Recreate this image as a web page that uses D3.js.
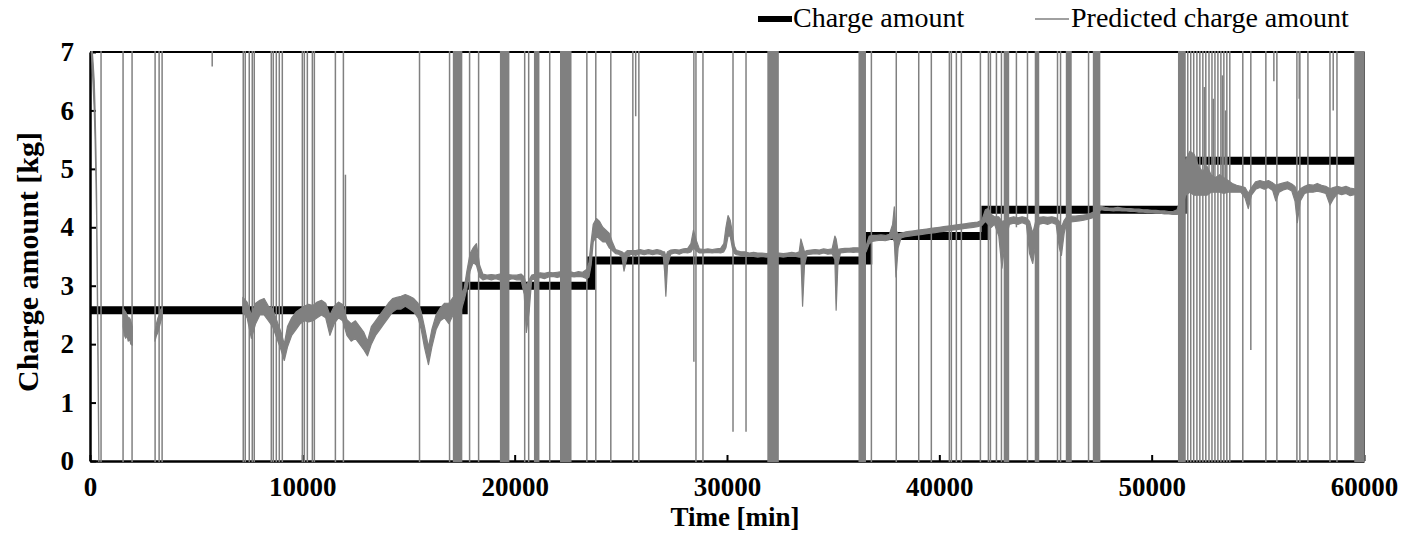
<!DOCTYPE html>
<html><head><meta charset="utf-8">
<script src="https://cdn.jsdelivr.net/npm/d3@7"></script>
<style>
html,body{margin:0;padding:0;background:#fff;}
</style></head>
<body><svg id="chart" width="1410" height="537"></svg>
<script>
// ---------------- DATA ----------------
const xTicks = [0, 10000, 20000, 30000, 40000, 50000, 60000];
const yTicks = [0, 1, 2, 3, 4, 5, 6, 7];
const xTitle = "Time [min]";
const yTitle = "Charge amount [kg]";
const seriesNames = ["Charge amount", "Predicted charge amount"];

// Charge amount (step series)
const stepTime  = [0, 17600, 23600, 36650, 42170, 51460, 60000];
const stepValue = [2.58, 3.0, 3.43, 3.85, 4.3, 5.14, 5.14];

// Predicted charge amount: in-range trace as [time, low, high] envelope (null = off chart)
const predictedTrace = [
 [0,7.3,7.6],[60,7.0,7.3],[110,6.7,7.0],[150,6.4,6.8],[200,6.0,6.5],[240,5.5,6.0],[280,4.8,5.3],[310,4.2,4.6],[340,3.0,3.5],[370,1.8,2.3],[400,0.6,1.0],[430,-0.6,-0.4],null,
 [1560,2.3,2.62],[1620,2.15,2.58],[1680,2.1,2.55],[1740,2.15,2.5],[1800,2.05,2.45],[1860,2.1,2.45],[1920,2.0,2.4],[1990,1.98,2.3],null,
 [3060,2.05,2.2],[3130,2.15,2.35],[3200,2.2,2.45],[3270,2.3,2.5],[3340,2.4,2.6],[3400,2.45,2.62],null,
 [7200,2.55,2.8],[7400,2.45,2.72],[7600,2.1,2.5],[7800,2.35,2.7],[8000,2.5,2.75],[8200,2.5,2.78],[8400,2.4,2.65],[8600,2.3,2.6],[8800,2.1,2.4],[9000,1.9,2.2],[9150,1.72,2.0],[9300,1.95,2.3],[9500,2.15,2.45],[9700,2.25,2.55],[9900,2.35,2.6],[10100,2.4,2.65],[10300,2.38,2.68],[10500,2.4,2.66],[10700,2.45,2.72],[10900,2.5,2.75],[11100,2.45,2.7],[11300,2.15,2.5],[11500,2.35,2.65],[11700,2.45,2.72],[11900,2.4,2.68],[12100,2.15,2.42],[12300,2.05,2.35],[12500,2.1,2.4],[12700,2.0,2.3],[12900,1.9,2.2],[13070,1.8,2.05],[13250,2.0,2.3],[13450,2.15,2.4],[13650,2.25,2.5],[13850,2.35,2.6],[14050,2.45,2.7],[14250,2.55,2.78],[14450,2.6,2.8],[14650,2.6,2.82],[14850,2.65,2.85],[15050,2.6,2.82],[15250,2.55,2.78],[15450,2.45,2.7],[15600,2.25,2.55],[15750,1.95,2.3],[15940,1.65,1.95],[16100,1.95,2.25],[16300,2.25,2.5],[16500,2.4,2.62],[16700,2.45,2.7],[16900,2.35,2.7],[17100,2.5,2.8],[17300,2.55,2.85],[17500,2.6,2.88],
 [17620,2.75,2.95],[17750,2.95,3.25],[17900,3.25,3.55],[18050,3.4,3.65],[18200,3.35,3.72],[18350,3.15,3.35],[18500,3.1,3.2],[18700,3.12,3.18],[18900,3.1,3.19],[19100,3.12,3.18],[19300,3.1,3.2],[19500,3.12,3.18],[19700,3.1,3.19],[19900,3.12,3.18],[20100,3.1,3.18],[20300,3.1,3.2],[20450,2.85,3.15],[20550,2.2,3.0],[20680,2.55,3.1],[20800,3.1,3.18],[21000,3.12,3.2],[21200,3.14,3.22],[21400,3.12,3.21],[21600,3.15,3.23],[21800,3.16,3.22],[22000,3.14,3.23],[22200,3.16,3.24],[22400,3.15,3.22],[22600,3.16,3.24],[22800,3.15,3.22],[23000,3.16,3.24],[23200,3.15,3.23],[23400,3.12,3.28],[23500,3.15,3.4],
 [23600,3.35,3.75],[23700,3.75,4.05],[23850,3.85,4.15],[24000,3.8,4.1],[24150,3.75,4.0],[24300,3.75,3.95],[24450,3.65,3.9],[24600,3.6,3.75],[24750,3.55,3.62],[24900,3.54,3.6],[25050,3.5,3.58],[25150,3.25,3.55],[25300,3.5,3.6],[25500,3.54,3.6],[25700,3.52,3.6],[25900,3.55,3.62],[26100,3.53,3.6],[26300,3.55,3.62],[26500,3.53,3.6],[26700,3.55,3.62],[26900,3.53,3.6],[27000,3.5,3.58],[27060,3.25,3.58],[27120,2.82,3.5],[27200,3.35,3.58],[27350,3.54,3.61],[27550,3.56,3.62],[27750,3.54,3.61],[27950,3.57,3.63],[28150,3.56,3.64],[28300,3.58,3.72],[28420,3.65,3.95],[28550,3.6,3.78],[28700,3.56,3.63],[28900,3.56,3.62],[29100,3.57,3.63],[29300,3.56,3.62],[29500,3.57,3.63],[29700,3.56,3.64],[29850,3.58,3.72],[29950,3.65,4.0],[30050,3.85,4.2],[30150,3.85,4.12],[30250,3.65,3.92],[30350,3.55,3.68],[30450,3.53,3.6],[30650,3.52,3.58],[30850,3.51,3.58],[31050,3.5,3.56],[31250,3.5,3.57],[31450,3.49,3.56],[31650,3.5,3.56],[31850,3.49,3.55],[32050,3.5,3.56],[32250,3.49,3.55],[32450,3.5,3.56],[32650,3.49,3.55],[32850,3.5,3.56],[33050,3.51,3.57],[33250,3.5,3.56],[33400,3.49,3.58],[33480,3.5,3.8],[33560,2.65,3.7],[33650,3.35,3.58],[33760,3.53,3.6],[33950,3.54,3.61],[34150,3.55,3.62],[34350,3.54,3.61],[34550,3.56,3.63],[34750,3.54,3.62],[34950,3.55,3.63],[35080,3.45,3.85],[35140,2.58,3.8],[35220,3.35,3.62],[35340,3.56,3.63],[35550,3.57,3.64],[35750,3.58,3.64],[35950,3.57,3.65],[36150,3.58,3.65],[36350,3.57,3.64],[36550,3.58,3.68],
 [36700,3.72,3.85],[36850,3.76,3.86],[37050,3.77,3.86],[37250,3.78,3.87],[37450,3.77,3.86],[37650,3.79,3.88],[37800,3.82,4.05],[37880,3.75,4.35],[37960,3.15,3.95],[38060,3.65,3.88],[38200,3.82,3.9],[38400,3.84,3.92],[38600,3.85,3.93],[38800,3.86,3.94],[39000,3.87,3.95],[39200,3.88,3.96],[39400,3.89,3.97],[39600,3.9,3.98],[39800,3.91,3.99],[40000,3.92,4.0],[40200,3.93,4.01],[40400,3.94,4.02],[40600,3.95,4.03],[40800,3.96,4.04],[41000,3.97,4.05],[41200,3.98,4.06],[41400,3.99,4.07],[41600,4.0,4.08],[41800,4.01,4.09],[42000,4.03,4.12],
 [42170,4.1,4.3],[42300,4.05,4.32],[42450,4.0,4.22],[42600,4.05,4.18],[42800,3.85,4.18],[42950,3.3,4.1],[43100,3.75,4.12],[43300,4.05,4.16],[43500,4.07,4.18],[43700,4.05,4.16],[43900,4.08,4.18],[44100,4.05,4.16],[44250,3.55,4.1],[44400,3.38,3.9],[44550,3.75,4.12],[44700,4.05,4.17],[44900,4.07,4.18],[45100,4.05,4.17],[45300,4.08,4.18],[45500,4.05,4.16],[45650,3.65,4.1],[45750,3.52,4.0],[45880,3.9,4.12],[46000,4.08,4.18],[46200,4.09,4.19],[46400,4.1,4.19],[46600,4.11,4.2],[46800,4.12,4.21],[47000,4.14,4.22],[47200,4.16,4.25],[47400,4.22,4.3],[47600,4.3,4.36],[47800,4.29,4.34],[48000,4.29,4.33],[48200,4.28,4.33],[48400,4.29,4.34],[48600,4.28,4.33],[48800,4.28,4.32],[49000,4.27,4.32],[49200,4.27,4.31],[49400,4.26,4.31],[49600,4.26,4.3],[49800,4.25,4.3],[50000,4.25,4.29],[50200,4.24,4.29],[50400,4.24,4.28],[50600,4.23,4.28],[50800,4.23,4.27],[51000,4.22,4.27],[51200,4.22,4.3],[51350,4.25,4.5],[51450,4.35,5.0],
 [51600,4.55,5.15],[51800,4.6,5.3],[52000,4.55,5.25],[52200,4.55,5.05],[52400,4.55,4.95],[52600,4.55,5.05],[52800,4.6,4.9],[53000,4.6,4.85],[53200,4.6,4.9],[53400,4.58,4.85],[53600,4.6,4.8],[53800,4.6,4.75],[54000,4.6,4.72],[54200,4.6,4.7],[54400,4.5,4.68],[54550,4.32,4.58],[54700,4.55,4.68],[54900,4.65,4.78],[55100,4.68,4.8],[55300,4.65,4.78],[55500,4.68,4.8],[55700,4.63,4.76],[55850,4.45,4.72],[56000,4.6,4.74],[56200,4.64,4.76],[56400,4.66,4.78],[56600,4.62,4.74],[56750,4.45,4.7],[56860,4.08,4.58],[57000,4.45,4.66],[57200,4.58,4.7],[57400,4.6,4.73],[57600,4.6,4.72],[57800,4.62,4.75],[58000,4.6,4.72],[58200,4.58,4.7],[58400,4.38,4.66],[58550,4.48,4.68],[58750,4.58,4.7],[58950,4.56,4.68],[59150,4.58,4.7],[59350,4.54,4.67],[59550,4.56,4.66]
];

// Predicted: full-range excursions (times)
const spikeTime = [520,1557,1981,3066,3255,3396,7217,7311,7500,7642,7736,8538,8632,8774,8915,9057,10000,10094,10236,10472,10566,11557,11934,
 15519,16934,17877,18302,20472,20660,21651,23400,23821,24528,25566,25849,28538,28868,36800,37972,39030,39623,40472,40566,40802,41038,41934,
 42311,42406,42689,42925,44151,45566,45708,47028,
 51560,51700,51840,51980,52130,52270,52410,52550,52700,52840,52980,53120,53260,53400,53540,53680,
 54292,55378,55897,56840,56981,57359,58397,58727];
// Predicted: partial excursions [time, low, high]
const partialSpikes = [[5755,6.75,7.2],[12030,2.4,4.9],[25700,5.9,7.2],[28440,1.7,7.2],[30283,0.5,7.2],[30896,0.5,7.2],
 [43630,4.0,7.2],[52480,4.7,6.4],[52900,4.7,6.2],[53330,4.7,6.6],[53480,4.6,6.0],[54670,1.9,7.2],[55755,6.5,7.2],[56950,6.2,7.2],[58550,6.0,7.2]];
// Predicted: dense oscillation intervals [start, end]
const denseBands = [[17123,17500],[19340,19717],[20943,21132],[22170,22642],[31934,32406],[36227,36510],[43066,43255],[44528,44670],
 [45991,46200],[47264,47547],[51274,51557],[59576,60000]];

// ---------------- CHART ----------------
const FONT = "'Liberation Serif','Times New Roman',Times,serif";
const svg = d3.select("#chart");
const L = 90, R = 1364, T = 52, B = 461;
const x = d3.scaleLinear().domain([0, 60000]).range([L, R]);
const y = d3.scaleLinear().domain([0, 7]).range([B, T]);
const grey = "#808080";

svg.append("defs").append("clipPath").attr("id","clip")
  .append("rect").attr("x", L).attr("y", T - 1).attr("width", R - L + 3).attr("height", B - T + 2);

// frame (top/right)
svg.append("line").attr("x1",L).attr("x2",R).attr("y1",T).attr("y2",T).attr("stroke","#000").attr("stroke-width",2);
svg.append("line").attr("x1",R).attr("x2",R).attr("y1",T).attr("y2",B).attr("stroke","#000").attr("stroke-width",2);

// axes
const xAxis = svg.append("g").attr("transform",`translate(0,${B})`)
  .call(d3.axisBottom(x).tickValues(xTicks).tickFormat(d3.format("d")).tickSizeInner(-6).tickSizeOuter(0).tickPadding(16));
const yAxis = svg.append("g").attr("transform",`translate(${L},0)`)
  .call(d3.axisLeft(y).tickValues(yTicks).tickFormat(d3.format("d")).tickSizeInner(-6).tickSizeOuter(0).tickPadding(16));
[xAxis, yAxis].forEach(g => {
  g.attr("font-family", FONT);
  g.select(".domain").attr("stroke","#000").attr("stroke-width",2.5);
  g.selectAll(".tick line").attr("stroke","#000").attr("stroke-width",2);
  g.selectAll(".tick text").attr("font-family", FONT)
    .attr("font-size",27).attr("font-weight","bold").attr("fill","#000");
});

// axis titles
svg.append("text").attr("x", 735).attr("y", 526).attr("text-anchor","middle").attr("font-family", FONT)
  .attr("font-size",27).attr("font-weight","bold").text(xTitle);
svg.append("text").attr("transform",`translate(38,262) rotate(-90)`).attr("text-anchor","middle").attr("font-family", FONT)
  .attr("font-size",30).attr("font-weight","bold").text(yTitle);

const plot = svg.append("g").attr("clip-path","url(#clip)");

// Charge amount step line
const stepData = stepTime.map((t,i) => [t, stepValue[i]]);
plot.append("path").datum(stepData)
  .attr("fill","none").attr("stroke","#000").attr("stroke-width",8)
  .attr("d", d3.line().x(d => x(d[0])).y(d => y(d[1])).curve(d3.curveStepAfter));

// Predicted: bands
plot.selectAll("rect.band").data(denseBands).join("rect").attr("class","band")
  .attr("x", d => x(d[0]) - 0.75).attr("width", d => x(d[1]) - x(d[0]) + 1.5)
  .attr("y", y(7.3)).attr("height", y(-0.3) - y(7.3)).attr("fill", grey);
// Predicted: full spikes
plot.selectAll("line.spike").data(spikeTime).join("line").attr("class","spike")
  .attr("x1", d => x(d)).attr("x2", d => x(d)).attr("y1", y(7.3)).attr("y2", y(-0.3))
  .attr("stroke", grey).attr("stroke-width",1.5);
// Predicted: partial spikes
plot.selectAll("line.pspike").data(partialSpikes).join("line").attr("class","pspike")
  .attr("x1", d => x(d[0])).attr("x2", d => x(d[0])).attr("y1", d => y(d[2])).attr("y2", d => y(d[1]))
  .attr("stroke", grey).attr("stroke-width",1.5);
// Predicted: trace envelope
plot.append("path").datum(predictedTrace)
  .attr("fill",grey).attr("stroke",grey).attr("stroke-width",1.2).attr("stroke-linejoin","round")
  .attr("d", d3.area().defined(d => d !== null).x(d => x(d[0])).y0(d => y(d[1])).y1(d => y(d[2])));

// legend
const lg = svg.append("g").attr("font-family", FONT);
lg.append("line").attr("x1",758).attr("x2",792).attr("y1",19).attr("y2",19).attr("stroke","#000").attr("stroke-width",6);
lg.append("text").attr("x",793).attr("y",27).attr("font-size",28).text(seriesNames[0]);
lg.append("line").attr("x1",1035).attr("x2",1069).attr("y1",19).attr("y2",19).attr("stroke",grey).attr("stroke-width",1.5);
lg.append("text").attr("x",1071).attr("y",27).attr("font-size",28).text(seriesNames[1]);
</script></body></html>
